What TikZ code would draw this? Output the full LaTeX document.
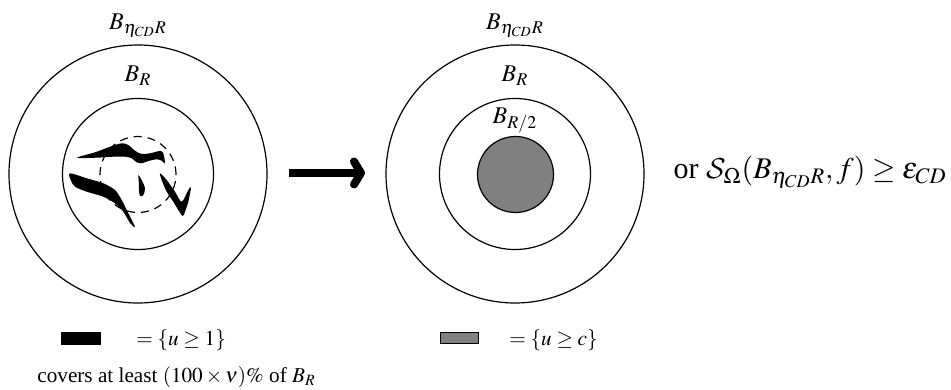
\documentclass[tikz,border=0pt]{standalone}
\usepackage{mathptmx}
\usepackage{fontspec}
\setmainfont{Liberation Serif}
\DeclareMathAlphabet{\mathcal}{OMS}{cmsy}{m}{n}
\usetikzlibrary{arrows.meta}
\tikzstyle{ring} = [draw, circle, line width=0.6pt, inner sep=0pt, outer sep=0pt]
\tikzstyle{bigarrow} = [line width=4pt, -{Straight Barb[length=3.5pt,width=11.5pt,round]}]
\tikzstyle{swatch} = [draw, line width=0.6pt, minimum width=19pt, minimum height=5.5pt, inner sep=0pt]
\tikzstyle{lbl} = [font=\fontsize{12}{14}\selectfont, inner sep=0pt, anchor=base]
\tikzstyle{legend} = [font=\fontsize{10.6}{12}\selectfont, inner sep=0pt, anchor=base west]
\tikzstyle{blob} = [fill=black, smooth cycle, tension=0.5]
\begin{document}
\begin{tikzpicture}[x=0.5pt, y=-0.5pt]
  \useasboundingbox (0,0) rectangle (951,390);
  % left picture
  \node[ring, minimum size=129pt] (louter) at (138,174) {};
  \node[ring, minimum size=75.5pt] (linner) at (138,174) {};
  \node[ring, dashed, dash pattern=on 4pt off 3pt, minimum size=38pt] (ldash) at (138,174.5) {};
  \node[lbl] (lbig) at (138,30) {$B_{\eta_{CD}R}$};
  \node[lbl] (lr) at (138,82) {$B_R$};
  \fill plot[blob] coordinates {(77,157.7) (96,152) (110,146.7) (121.7,143.3) (128.3,145) (135,150.7)
    (141.7,154) (150,153.3) (160,151) (163.3,153.3) (165,163.3) (161.7,160.7) (156.7,159.3)
    (148.3,161) (141.7,163.3) (136.7,162.3) (131.7,158.3) (125,156.7) (113.3,156.7) (96.7,157.7)};
  \fill plot[blob] coordinates {(70,173.3) (86.7,178.3) (103.3,183.3) (115,190) (121.7,200) (126.7,210)
    (135,226.7) (130,223) (123.3,211.7) (115,203.3) (103.3,196.7) (86.7,191.7) (75,186.7) (70.7,180)};
  \fill plot[blob] coordinates {(138.3,175) (141.7,180) (145,188.3) (143.3,195) (140,196) (139,190) (138.7,180)};
  \fill plot[blob] coordinates {(160,173.3) (166.7,180) (175,191.7) (181.7,201.7) (188.3,190) (191,187.3)
    (188.3,201.7) (185,211.7) (182.7,216) (178.3,210) (173.3,201.7) (166.7,191.7) (161.7,180)};
  % arrow between the two
  \coordinate (arrstart) at (289,173);
  \coordinate (arrend) at (365,173);
  \draw[bigarrow] (arrstart) -- (arrend);
  % right picture
  \node[ring, minimum size=129pt] (router) at (515,174) {};
  \node[ring, minimum size=75.5pt] (rinner) at (515,174) {};
  \node[ring, fill=gray, minimum size=38pt] (rdisk) at (515.5,174.5) {};
  \node[lbl] (rbig) at (515,30) {$B_{\eta_{CD}R}$};
  \node[lbl] (rr) at (515,82) {$B_R$};
  \node[lbl] (rhalf) at (515,123) {$B_{R/2}$};
  \node[anchor=base east, inner sep=0pt, font=\fontsize{15}{18}\selectfont] (alt) at (947,178.5)
    {or $\mathcal{S}_{\Omega}(B_{\eta_{CD}R},f)\geq\varepsilon_{CD}$};
  % legends
  \node[swatch, fill=black] (lkey) at (81,338.5) {};
  \node[legend] (lkeytxt) at (136,345) {$=\{u\geq 1\}$};
  \node[legend] (lcover) at (37,382) {covers at least $(100\times\nu)\%$ of $B_R$};
  \node[swatch, fill=gray] (rkey) at (459.5,338) {};
  \node[legend] (rkeytxt) at (509,345) {$=\{u\geq c\}$};
\end{tikzpicture}
\end{document}
